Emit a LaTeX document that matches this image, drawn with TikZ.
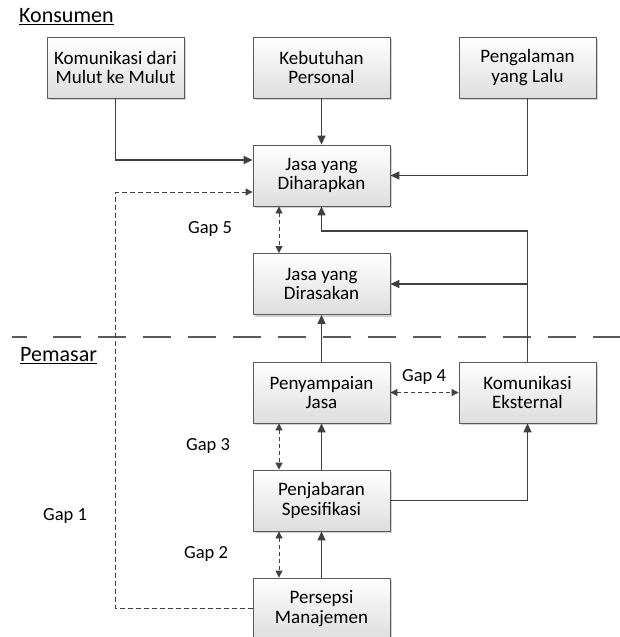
\documentclass[tikz,border=0pt]{standalone}
\usepackage{fontspec}
\setmainfont{Carlito}
\usetikzlibrary{arrows.meta,shadows}
\definecolor{ln}{HTML}{404040}
\definecolor{bd}{HTML}{5A5A5A}
\begin{document}
\begin{tikzpicture}[x=1pt,y=-1pt,
  box/.style={draw=bd, line width=0.8pt, top color=white, bottom color=black!13,
    minimum width=137pt, minimum height=61pt, align=center, inner sep=2pt,
    font=\fontsize{19}{19.5}\selectfont,
    drop shadow={shadow xshift=2pt, shadow yshift=-2pt, fill=black!35, opacity=.5}},
  lbl/.style={font=\fontsize{18.5}{19}\selectfont, inner sep=0pt},
  head/.style={font=\fontsize{22}{22}\selectfont, inner sep=0pt, anchor=west},
  arr/.style={draw=ln, line width=1.3pt, -{Triangle[length=9pt,width=8pt]}},
  dbl/.style={draw=ln, line width=0.8pt, dash pattern=on 4pt off 3pt,
    {Triangle[length=7pt,width=7pt]}-{Triangle[length=7pt,width=7pt]}},
  dsh/.style={draw=ln, line width=0.8pt, dash pattern=on 5pt off 3pt,
    -{Triangle[length=7pt,width=7pt]}},
  sep/.style={draw=bd, line width=1.3pt, dash pattern=on 28pt off 17pt}]
\useasboundingbox (0,0) rectangle (620,637);

% section labels
\node[head] (kons) at (19,17) {\underline{Konsumen}};
\node[head] (pem) at (20,356) {\underline{Pemasar}};

% separator
\draw[sep] (12,337) -- (27,337) (53,337) -- (620,337);

% boxes
\node[box] (kom)   at (115.5,67.5) {Komunikasi dari\\Mulut ke Mulut};
\node[box] (keb)   at (321.5,67.5) {Kebutuhan\\Personal};
\node[box] (peng)  at (527.5,67.5) {Pengalaman\\yang Lalu};
\node[box] (harap) at (321.5,175.5) {Jasa yang\\Diharapkan};
\node[box] (rasa)  at (321.5,284) {Jasa yang\\Dirasakan};
\node[box] (peny)  at (321.5,392.5) {Penyampaian\\Jasa};
\node[box] (eks)   at (527.5,392.5) {Komunikasi\\Eksternal};
\node[box] (penj)  at (321.5,500.5) {Penjabaran\\Spesifikasi};
\node[box] (pers)  at (321.5,608.5) {Persepsi\\Manajemen};

% gap labels
\node[lbl] (g5) at (210,229) {Gap 5};
\node[lbl] (g4) at (424,377) {Gap 4};
\node[lbl] (g3) at (208,446) {Gap 3};
\node[lbl] (g1) at (65,516) {Gap 1};
\node[lbl] (g2) at (206,554) {Gap 2};

\coordinate (r231) at (0,231);

% consumer side connectors
\draw[arr] (kom.south) |- ([yshift=15.5pt]harap.west);
\draw[arr] (keb) -- (harap);
\draw[arr] (peng.south) |- (harap.east);

% external communication
\draw[arr] (eks.north) |- (harap.south |- r231) -- (harap.south);
\draw[arr] (eks.north |- rasa.east) -- (rasa.east);

% service chain
\draw[arr] (peny) -- (rasa);
\draw[arr] (penj) -- (peny);
\draw[arr] (pers) -- (penj);
\draw[arr] (penj.east) -| (eks.south);

% gaps
\draw[dsh] (pers.west) -- (pers.west -| kom.south) |- ([yshift=-16.5pt]harap.west);
\draw[dbl] ([xshift=-42.5pt]harap.south) -- ([xshift=-42.5pt]rasa.north);
\draw[dbl] (peny.east) -- (eks.west);
\draw[dbl] ([xshift=-42.5pt]peny.south) -- ([xshift=-42.5pt]penj.north);
\draw[dbl] ([xshift=-42.5pt]penj.south) -- ([xshift=-42.5pt]pers.north);
\end{tikzpicture}
\end{document}
